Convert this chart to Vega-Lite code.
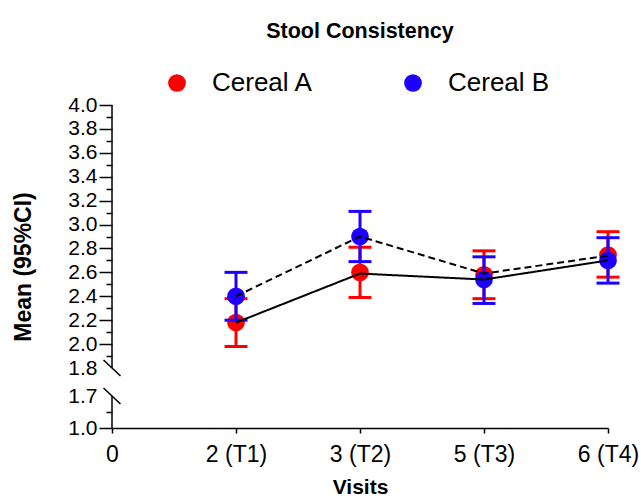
{
  "$schema": "https://vega.github.io/schema/vega-lite/v6.json",
  "autosize": {"type": "none"},
  "padding": {"left": 112, "top": 105, "right": 33, "bottom": 72},
  "width": 496,
  "height": 323,
  "title": {"text": "Stool Consistency", "fontSize": 21.5, "fontWeight": "bold", "font": "Liberation Sans", "anchor": "middle", "frame": "group", "offset": 28, "color": "black"},
  "config": {"font": "Liberation Sans", "view": {"stroke": null}, "axis": {"grid": false}},
  "datasets": {
    "stats": [
      {"group": "Cereal A", "visit": 1, "mean": 2.18, "lo": 1.98, "hi": 2.38},
      {"group": "Cereal A", "visit": 2, "mean": 2.60, "lo": 2.39, "hi": 2.81},
      {"group": "Cereal A", "visit": 3, "mean": 2.58, "lo": 2.38, "hi": 2.78},
      {"group": "Cereal A", "visit": 4, "mean": 2.745, "lo": 2.56, "hi": 2.94},
      {"group": "Cereal B", "visit": 1, "mean": 2.40, "lo": 2.20, "hi": 2.60},
      {"group": "Cereal B", "visit": 2, "mean": 2.90, "lo": 2.69, "hi": 3.11},
      {"group": "Cereal B", "visit": 3, "mean": 2.54, "lo": 2.34, "hi": 2.73},
      {"group": "Cereal B", "visit": 4, "mean": 2.70, "lo": 2.51, "hi": 2.89}
    ],
    "lines": [
      {"series": "solid", "visit": 1, "value": 2.18},
      {"series": "solid", "visit": 2, "value": 2.59},
      {"series": "solid", "visit": 3, "value": 2.54},
      {"series": "solid", "visit": 4, "value": 2.70},
      {"series": "dashed", "visit": 1, "value": 2.40},
      {"series": "dashed", "visit": 2, "value": 2.90},
      {"series": "dashed", "visit": 3, "value": 2.59},
      {"series": "dashed", "visit": 4, "value": 2.74}
    ],
    "seg": [{"lo": 1.0, "hi": 1.7}, {"lo": 1.8, "hi": 4.0}],
    "brk": [{"v": 1.8}, {"v": 1.7}]
  },
  "resolve": {"axis": {"x": "independent", "y": "independent"}},
  "layer": [
    {
      "data": {"name": "seg"},
      "mark": {"type": "rule", "color": "black", "strokeWidth": 1.5},
      "encoding": {
        "x": {"datum": 0, "type": "quantitative", "scale": {"domain": [0, 4], "nice": false, "zero": false}, "axis": null},
        "y": {"field": "lo", "type": "quantitative", "scale": {"type": "linear", "domain": [1.0, 1.7, 1.8, 4.0], "range": [323, 291, 263, 0], "nice": false, "zero": false},
          "axis": {"orient": "left", "values": [1.35, 1.9, 2.1, 2.3, 2.5, 2.7, 2.9, 3.1, 3.3, 3.5, 3.7, 3.9], "labels": false, "domain": false, "tickSize": 6, "tickWidth": 1.5, "tickColor": "black", "title": null, "grid": false}},
        "y2": {"field": "hi"}
      }
    },
    {
      "data": {"name": "brk"},
      "mark": {"type": "point", "shape": "M-1,-0.95L1,0.95", "filled": false, "stroke": "black", "strokeWidth": 1.5, "size": 289, "opacity": 1},
      "encoding": {
        "x": {"datum": 0, "type": "quantitative", "scale": {"domain": [0, 4], "nice": false, "zero": false}, "axis": null},
        "y": {"field": "v", "type": "quantitative", "scale": {"type": "linear", "domain": [1.0, 1.7, 1.8, 4.0], "range": [323, 291, 263, 0], "nice": false, "zero": false},
          "axis": {"orient": "left", "values": [1.0, 1.7, 1.8, 2.0, 2.2, 2.4, 2.6, 2.8, 3.0, 3.2, 3.4, 3.6, 3.8, 4.0], "format": ".1f", "domain": false, "tickSize": 13, "tickWidth": 1.5, "tickColor": "black",
            "tickOpacity": {"condition": {"test": "datum.value == 1.7 || datum.value == 1.8", "value": 0}, "value": 1},
            "labelFontSize": 21, "labelColor": "black", "labelPadding": 2, "labelFont": "Liberation Sans", "labelOverlap": false, "labelFlush": false,
            "title": "Mean (95%CI)", "titleFontSize": 23, "titleFontWeight": "bold", "titleColor": "black", "titlePadding": 32, "titleFont": "Liberation Sans", "grid": false}}
      }
    },
    {
      "data": {"name": "stats"},
      "transform": [{"filter": "datum.group == 'Cereal A'"}],
      "layer": [
        {"mark": {"type": "rule", "color": "#FF0000", "strokeWidth": 3},
         "encoding": {"x": {"field": "visit", "type": "quantitative", "scale": {"domain": [0, 4], "nice": false, "zero": false}, "axis": null},
                      "y": {"field": "lo", "type": "quantitative", "scale": {"type": "linear", "domain": [1.0, 1.7, 1.8, 4.0], "range": [323, 291, 263, 0], "nice": false, "zero": false}, "axis": null},
                      "y2": {"field": "hi"}}},
        {"mark": {"type": "tick", "orient": "horizontal", "color": "#FF0000", "size": 23, "thickness": 3, "opacity": 1},
         "encoding": {"x": {"field": "visit", "type": "quantitative", "scale": {"domain": [0, 4], "nice": false, "zero": false}, "axis": null},
                      "y": {"field": "lo", "type": "quantitative", "scale": {"type": "linear", "domain": [1.0, 1.7, 1.8, 4.0], "range": [323, 291, 263, 0], "nice": false, "zero": false}, "axis": null}}},
        {"mark": {"type": "tick", "orient": "horizontal", "color": "#FF0000", "size": 23, "thickness": 3, "opacity": 1},
         "encoding": {"x": {"field": "visit", "type": "quantitative", "scale": {"domain": [0, 4], "nice": false, "zero": false}, "axis": null},
                      "y": {"field": "hi", "type": "quantitative", "scale": {"type": "linear", "domain": [1.0, 1.7, 1.8, 4.0], "range": [323, 291, 263, 0], "nice": false, "zero": false}, "axis": null}}},
        {"mark": {"type": "point", "filled": true, "size": 314, "opacity": 1},
         "encoding": {"x": {"field": "visit", "type": "quantitative", "scale": {"domain": [0, 4], "nice": false, "zero": false}, "axis": null},
                      "y": {"field": "mean", "type": "quantitative", "scale": {"type": "linear", "domain": [1.0, 1.7, 1.8, 4.0], "range": [323, 291, 263, 0], "nice": false, "zero": false}, "axis": null},
                      "color": {"field": "group", "type": "nominal", "scale": {"domain": ["Cereal A", "Cereal B"], "range": ["#FF0000", "#1E00FF"]},
                        "legend": {"orient": "none", "legendX": 52, "legendY": -35, "direction": "horizontal", "title": null, "symbolType": "circle", "symbolSize": 314, "symbolStrokeWidth": 0, "symbolOpacity": 1, "labelFontSize": 26, "labelFont": "Liberation Sans", "labelColor": "black", "labelOffset": 22, "columnPadding": 86, "labelLimit": 300}}}}
      ]
    },
    {
      "data": {"name": "stats"},
      "transform": [{"filter": "datum.group == 'Cereal B'"}],
      "layer": [
        {"mark": {"type": "rule", "color": "#1E00FF", "strokeWidth": 3},
         "encoding": {"x": {"field": "visit", "type": "quantitative", "scale": {"domain": [0, 4], "nice": false, "zero": false}, "axis": null},
                      "y": {"field": "lo", "type": "quantitative", "scale": {"type": "linear", "domain": [1.0, 1.7, 1.8, 4.0], "range": [323, 291, 263, 0], "nice": false, "zero": false}, "axis": null},
                      "y2": {"field": "hi"}}},
        {"mark": {"type": "tick", "orient": "horizontal", "color": "#1E00FF", "size": 23, "thickness": 3, "opacity": 1},
         "encoding": {"x": {"field": "visit", "type": "quantitative", "scale": {"domain": [0, 4], "nice": false, "zero": false}, "axis": null},
                      "y": {"field": "lo", "type": "quantitative", "scale": {"type": "linear", "domain": [1.0, 1.7, 1.8, 4.0], "range": [323, 291, 263, 0], "nice": false, "zero": false}, "axis": null}}},
        {"mark": {"type": "tick", "orient": "horizontal", "color": "#1E00FF", "size": 23, "thickness": 3, "opacity": 1},
         "encoding": {"x": {"field": "visit", "type": "quantitative", "scale": {"domain": [0, 4], "nice": false, "zero": false}, "axis": null},
                      "y": {"field": "hi", "type": "quantitative", "scale": {"type": "linear", "domain": [1.0, 1.7, 1.8, 4.0], "range": [323, 291, 263, 0], "nice": false, "zero": false}, "axis": null}}},
        {"mark": {"type": "point", "filled": true, "size": 314, "opacity": 1},
         "encoding": {"x": {"field": "visit", "type": "quantitative", "scale": {"domain": [0, 4], "nice": false, "zero": false}, "axis": null},
                      "y": {"field": "mean", "type": "quantitative", "scale": {"type": "linear", "domain": [1.0, 1.7, 1.8, 4.0], "range": [323, 291, 263, 0], "nice": false, "zero": false}, "axis": null},
                      "color": {"field": "group", "type": "nominal", "scale": {"domain": ["Cereal A", "Cereal B"], "range": ["#FF0000", "#1E00FF"]},
                        "legend": {"orient": "none", "legendX": 52, "legendY": -35, "direction": "horizontal", "title": null, "symbolType": "circle", "symbolSize": 314, "symbolStrokeWidth": 0, "symbolOpacity": 1, "labelFontSize": 26, "labelFont": "Liberation Sans", "labelColor": "black", "labelOffset": 22, "columnPadding": 86, "labelLimit": 300}}}}
      ]
    },
    {
      "data": {"name": "lines"},
      "mark": {"type": "line", "color": "black", "strokeWidth": 2},
      "encoding": {
        "x": {"field": "visit", "type": "quantitative", "scale": {"domain": [0, 4], "nice": false, "zero": false},
          "axis": {"orient": "bottom", "values": [0, 1, 2, 3, 4], "labelExpr": "['0','2 (T1)','3 (T2)','5 (T3)','6 (T4)'][datum.value]", "domain": true, "domainColor": "black", "domainWidth": 1.5, "tickSize": 5, "tickWidth": 1.5, "tickColor": "black", "labelFontSize": 23, "labelColor": "black", "labelPadding": 10, "labelFont": "Liberation Sans", "title": "Visits", "titleFontSize": 21, "titleFontWeight": "bold", "titleColor": "black", "titlePadding": 10, "titleFont": "Liberation Sans", "grid": false, "labelFlush": false, "labelOverlap": false}},
        "y": {"field": "value", "type": "quantitative", "scale": {"type": "linear", "domain": [1.0, 1.7, 1.8, 4.0], "range": [323, 291, 263, 0], "nice": false, "zero": false}, "axis": null},
        "strokeDash": {"field": "series", "type": "nominal", "scale": {"domain": ["solid", "dashed"], "range": [[1, 0], [7, 4]]}, "legend": null}
      }
    }
  ]
}
